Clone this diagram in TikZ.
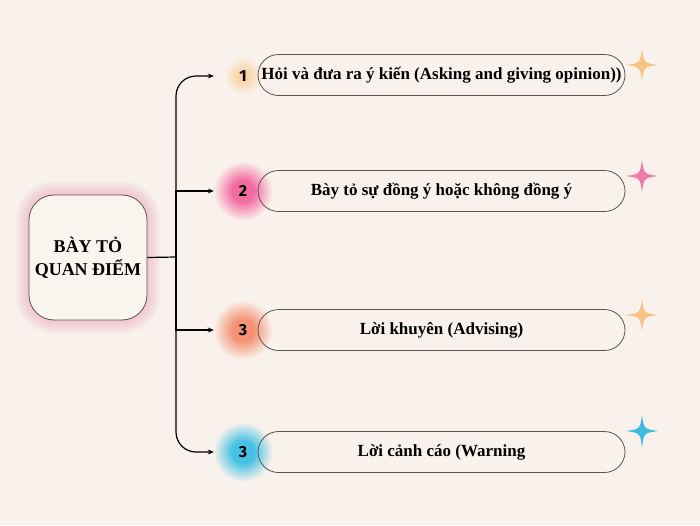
\documentclass[tikz,border=0pt]{standalone}
\usepackage{fontspec}
\setmainfont{Liberation Serif}
\newfontfamily\numfont{Fira Sans}
\usetikzlibrary{arrows.meta,positioning}

\definecolor{bgcol}{HTML}{F9F2EC}
\definecolor{edgecol}{HTML}{5A5450}
\definecolor{glowA}{HTML}{FAD3A4}
\definecolor{glowB}{HTML}{F26CA3}
\definecolor{glowC}{HTML}{F49273}
\definecolor{glowD}{HTML}{45C2E3}
\definecolor{starA}{HTML}{F7C385}
\definecolor{starB}{HTML}{F27BA8}
\definecolor{starD}{HTML}{3EBCE0}

% soft glows: flat core, fading to the background
\pgfdeclareradialshading{haloA}{\pgfpoint{0bp}{0bp}}{color(0bp)=(glowA); color(6bp)=(glowA); color(25bp)=(bgcol); color(50bp)=(bgcol)}
\pgfdeclareradialshading{haloB}{\pgfpoint{0bp}{0bp}}{color(0bp)=(glowB); color(9bp)=(glowB); color(25bp)=(bgcol); color(50bp)=(bgcol)}
\pgfdeclareradialshading{haloC}{\pgfpoint{0bp}{0bp}}{color(0bp)=(glowC); color(9bp)=(glowC); color(25bp)=(bgcol); color(50bp)=(bgcol)}
\pgfdeclareradialshading{haloD}{\pgfpoint{0bp}{0bp}}{color(0bp)=(glowD); color(9bp)=(glowD); color(25bp)=(bgcol); color(50bp)=(bgcol)}

\tikzset{
  rootbox/.style={rectangle, rounded corners=25pt, draw=edgecol, line width=0.8pt,
    fill=bgcol!85!white, minimum width=118pt, minimum height=125pt, align=center,
    inner sep=0pt, font=\bfseries\fontsize{18}{23}\selectfont},
  pill/.style={rectangle, rounded corners=20.5pt, draw=edgecol, line width=0.8pt,
    minimum width=367pt, minimum height=41pt, inner sep=0pt,
    font=\bfseries\fontsize{17}{20}\selectfont},
  num/.style={circle, minimum size=50pt, inner sep=0pt,
    font=\numfont\bfseries\fontsize{16}{18}\selectfont},
  trunk/.style={line width=1.2pt},
  link/.style={line width=1.2pt, -{Stealth[length=6pt,width=5pt]}, shorten >=4pt},
}
% four-pointed sparkle: x, y, colour
\newcommand{\sparkle}[3]{%
  \fill[#3, shift={(#1,#2)}] (0,-16) .. controls (2,-2) .. (16,0)
    .. controls (2,2) .. (0,16) .. controls (-2,2) .. (-16,0)
    .. controls (-2,-2) .. cycle;}

\begin{document}
\begin{tikzpicture}[x=1pt,y=-1pt]
\fill[bgcol] (0,0) rectangle (700,525);

% pink glow round the main box
\foreach \g in {1,...,14}
  \fill[glowB, opacity=0.025, rounded corners=25pt+\g pt]
    (29-\g,195-\g) rectangle (147+\g,320+\g);

% glows behind the numbers
\shade[shading=haloA] (243,76) circle (19);
\shade[shading=haloB] (243,191) circle (30);
\shade[shading=haloC] (243,330) circle (30);
\shade[shading=haloD] (243,452) circle (30);

% main box
\node[rootbox] (root) at (88,257.5) {BÀY TỎ\\QUAN ĐIỂM};

% options
\node[pill] (op1) at (441.5,75) {Hỏi và đưa ra ý kiến (Asking and giving opinion))};
\node[pill] (op2) at (441.5,191) {Bày tỏ sự đồng ý hoặc không đồng ý};
\node[pill] (op3) at (441.5,330) {Lời khuyên (Advising)};
\node[pill] (op4) at (441.5,452) {Lời cảnh cáo (Warning};

% numbers
\node[num] (n1) at (243,76) {1};
\node[num] (n2) at (243,191) {2};
\node[num] (n3) at (243,330) {3};
\node[num] (n4) at (243,452) {3};

% tree
\coordinate (jn) at (176,257);
\draw[trunk] (root.east) -- (jn);
\draw[link, rounded corners=20pt] (jn) |- (n1.west);
\draw[link] (jn) |- (n2.west);
\draw[link] (jn) |- (n3.west);
\draw[link, rounded corners=20pt] (jn) |- (n4.west);

% sparkles
\sparkle{642}{65}{starA}
\sparkle{642}{176}{starB}
\sparkle{642}{315}{starA}
\sparkle{642}{431}{starD}
\end{tikzpicture}
\end{document}
